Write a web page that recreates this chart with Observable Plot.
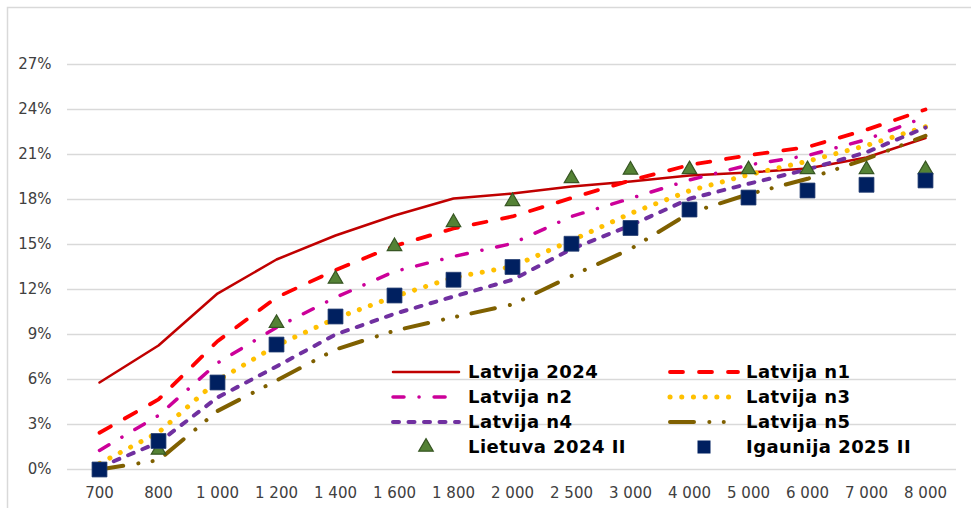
<!DOCTYPE html>
<html>
<head>
<meta charset="utf-8">
<script src="https://cdn.jsdelivr.net/npm/d3@7"></script>
<script src="https://cdn.jsdelivr.net/npm/@observablehq/plot@0.6"></script>
<style>
  html, body { margin: 0; padding: 0; background: #ffffff; }
  #chart svg { display: block; }
</style>
</head>
<body>
<div id="chart"></div>
<script>
// ---- data (values in %) ----
const categories = ["700","800","1 000","1 200","1 400","1 600","1 800","2 000","2 500","3 000","4 000","5 000","6 000","7 000","8 000"];
const latvija2024 = [5.8, 8.27, 11.73, 14.0, 15.6, 16.93, 18.07, 18.4, 18.87, 19.2, 19.6, 19.8, 20.07, 20.8, 22.1];
const latvijaN1 = [2.45, 4.67, 8.55, 11.47, 13.3, 14.9, 16.07, 16.87, 18.1, 19.27, 20.3, 20.95, 21.5, 22.65, 24.0];
const latvijaN2 = [1.27, 3.6, 7.1, 9.47, 11.47, 13.2, 14.2, 15.07, 16.87, 18.07, 19.3, 20.3, 20.93, 22.0, 23.5];
const latvijaN3 = [0.4, 2.47, 5.93, 8.27, 10.07, 11.53, 12.8, 13.53, 15.27, 17.07, 18.58, 19.65, 20.55, 21.6, 22.85];
const latvijaN4 = [0.15, 1.8, 4.8, 6.87, 9.0, 10.38, 11.53, 12.65, 14.7, 16.27, 18.05, 19.05, 20.0, 21.15, 22.8];
const latvijaN5 = [0, 0.62, 3.9, 5.93, 8.0, 9.25, 10.15, 11.0, 12.9, 14.7, 17.1, 18.35, 19.38, 20.7, 22.25];
const lietuva2024II = [null, 1.3, null, 9.75, 12.7, 14.87, 16.47, 17.87, 19.4, 19.97, 20.0, 20.0, 20.0, 20.0, 20.0];
const igaunija2025II = [0, 1.9, 5.8, 8.33, 10.2, 11.6, 12.65, 13.5, 15.05, 16.1, 17.33, 18.13, 18.6, 18.98, 19.27];
const yTicks = [0, 3, 6, 9, 12, 15, 18, 21, 24, 27];

const seriesNames = ["Latvija 2024","Latvija n1","Latvija n2","Latvija n3","Latvija n4","Latvija n5","Lietuva 2024 II","Igaunija 2025 II"];

const toRows = (vals) => categories.map((c, i) => ({x: c, y: vals[i] == null ? null : vals[i] / 100}));

const lineStyles = [
  {name: seriesNames[0], data: latvija2024, stroke: "#C00000", width: 2.5, dash: null, cap: "round"},
  {name: seriesNames[1], data: latvijaN1, stroke: "#FF0000", width: 3.8, dash: "13,16", cap: "round"},
  {name: seriesNames[2], data: latvijaN2, stroke: "#CC0099", width: 3.5, dash: "11,15,0.1,15", cap: "round"},
  {name: seriesNames[3], data: latvijaN3, stroke: "#FFC000", width: 5, dash: "0.1,11.6", cap: "round"},
  {name: seriesNames[4], data: latvijaN4, stroke: "#7030A0", width: 4, dash: "6,9.5", cap: "round"},
  {name: seriesNames[5], data: latvijaN5, stroke: "#7F6000", width: 4, dash: "24,15.3,0.1,14.3,0.1,14.6", cap: "round"}
];

const marks = [
  Plot.gridY(yTicks.map(d => d / 100), {stroke: "#d9d9d9", strokeOpacity: 1, strokeWidth: 1.5}),
  Plot.axisY(yTicks.map(d => d / 100), {tickSize: 0, tickPadding: 16, tickFormat: d => Math.round(d * 100) + "%", fontSize: 15, fill: "#404040", label: null}),
  Plot.axisX({tickSize: 0, tickPadding: 18, fontSize: 15, fill: "#404040", label: null})
];
for (const s of lineStyles) {
  marks.push(Plot.line(toRows(s.data), {
    x: "x", y: "y", stroke: s.stroke, strokeWidth: s.width,
    strokeDasharray: s.dash, strokeLinecap: s.cap, strokeLinejoin: "round"
  }));
}
marks.push(Plot.dot(toRows(lietuva2024II).filter(d => d.y != null), {
  x: "x", y: "y", symbol: "triangle", r: 5.4, fill: "#548235", stroke: "#375623", strokeWidth: 1.2
}));
marks.push(Plot.dot(toRows(igaunija2025II), {
  x: "x", y: "y", symbol: "square", r: 8.4, fill: "#002060", stroke: "#1f3a6e", strokeWidth: 0.8
}));

const chart = Plot.plot({
  width: 971,
  height: 508,
  marginLeft: 67,
  marginRight: 15,
  marginTop: 64,
  marginBottom: 39,
  style: {fontFamily: "'DejaVu Sans', Verdana, sans-serif", fontSize: "15px", background: "#ffffff", color: "#404040"},
  x: {type: "point", domain: categories, padding: 0.5, axis: null},
  y: {domain: [0, 0.27], axis: null},
  marks
});
document.getElementById("chart").appendChild(chart);

// ---- chart-area border & in-plot legend ----
const svg = d3.select(chart);
svg.append("path").attr("d", "M7.5,508 V7.5 H971").attr("fill", "none").attr("stroke", "#d9d9d9").attr("stroke-width", 1.5);

const leg = svg.append("g").attr("text-anchor", "start");
const rowsY = [372, 397, 422, 447];
const col1 = {x0: 391, x1: 461, tx: 468};
const col2 = {x0: 668, x1: 740, tx: 746};
const legendItems = [
  {col: col1, row: 0, line: lineStyles[0]},
  {col: col1, row: 1, line: lineStyles[2]},
  {col: col1, row: 2, line: lineStyles[4]},
  {col: col1, row: 3, symbol: "triangle", name: seriesNames[6]},
  {col: col2, row: 0, line: lineStyles[1]},
  {col: col2, row: 1, line: lineStyles[3]},
  {col: col2, row: 2, line: lineStyles[5]},
  {col: col2, row: 3, symbol: "square", name: seriesNames[7]}
];
for (const it of legendItems) {
  const y = rowsY[it.row];
  const c = it.col;
  if (it.line) {
    const l = it.line;
    leg.append("line").attr("x1", c.x0 + 2).attr("x2", c.x1 - 2).attr("y1", y).attr("y2", y)
      .attr("stroke", l.stroke).attr("stroke-width", l.width)
      .attr("stroke-dasharray", l.dash).attr("stroke-linecap", l.cap);
  } else if (it.symbol === "triangle") {
    leg.append("path").attr("d", d3.symbol(d3.symbolTriangle, Math.PI * 5.4 * 5.4)())
      .attr("transform", `translate(${(c.x0 + c.x1) / 2},${y})`)
      .attr("fill", "#548235").attr("stroke", "#375623").attr("stroke-width", 1.2);
  } else {
    leg.append("rect").attr("x", (c.x0 + c.x1) / 2 - 6.5).attr("y", y - 6.5).attr("width", 13).attr("height", 13)
      .attr("fill", "#002060");
  }
  leg.append("text").attr("x", c.tx).attr("y", y).attr("dy", "0.36em").attr("text-anchor", "start")
    .attr("font-family", "'DejaVu Sans', Verdana, sans-serif").attr("font-weight", "bold")
    .attr("font-size", 18).attr("letter-spacing", "0.45px").attr("fill", "#000000")
    .text(it.line ? it.line.name : it.name);
}
</script>
</body>
</html>
